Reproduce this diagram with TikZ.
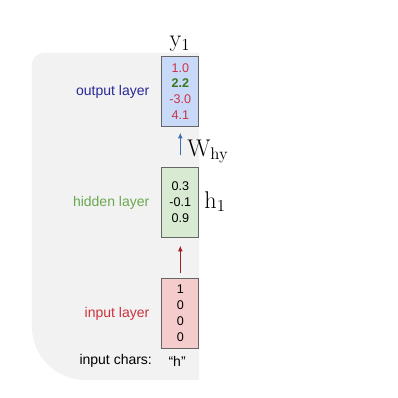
\documentclass[tikz,border=0pt]{standalone}
\usepackage[no-math]{fontspec}
\newfontfamily\slidefont{Liberation Sans}
\usetikzlibrary{positioning,arrows.meta}

\definecolor{panelgray}{RGB}{242,242,242}
\definecolor{outfill}{RGB}{201,218,248}
\definecolor{hidfill}{RGB}{217,234,211}
\definecolor{infill}{RGB}{244,204,204}
\definecolor{outtext}{RGB}{40,40,150}
\definecolor{hidtext}{RGB}{106,168,79}
\definecolor{intext}{RGB}{204,50,60}
\definecolor{valred}{RGB}{204,50,70}
\definecolor{valgreen}{RGB}{56,118,29}
\definecolor{arrblue}{RGB}{61,111,181}
\definecolor{arrred}{RGB}{160,30,40}

\begin{document}
\begin{tikzpicture}[
    layerbox/.style={draw=black!60, line width=0.6pt, minimum width=0.93cm,
        minimum height=1.75cm, inner sep=0pt, align=center,
        font=\slidefont\fontsize{9}{11.4}\selectfont},
    layername/.style={font=\slidefont\fontsize{10}{12}\selectfont},
    mathlabel/.style={font=\fontsize{17}{20}\selectfont, inner sep=0pt},
    link/.style={line width=0.6pt, -{Latex[length=4pt,width=3.5pt]}}
]
\useasboundingbox (0,0) rectangle (10,10);

% background panel
\fill[panelgray] (5.0,8.67) -- (1.1,8.67) arc[start angle=90,end angle=180,radius=0.3]
    -- (0.8,1.8) arc[start angle=180,end angle=270,radius=1.35] -- (5.0,0.45) -- cycle;

% layers
\node[layerbox, fill=outfill] (out) at (4.53,7.70)
    {\textcolor{valred}{1.0}\\ \textcolor{valgreen}{\bfseries 2.2}\\
     \textcolor{valred}{-3.0}\\ \textcolor{valred}{4.1}};
\node[layerbox, fill=hidfill] (hid) at (4.53,4.91) {0.3\\ -0.1\\ 0.9};
\node[layerbox, fill=infill] (inp) at (4.53,2.12) {1\\ 0\\ 0\\ 0};

% names
\node[layername, text=outtext, left=0.18cm of out] (outname) {output layer};
\node[layername, text=hidtext, left=0.18cm of hid] (hidname) {hidden layer};
\node[layername, text=intext, left=0.18cm of inp] (inpname) {input layer};
\node[layername, anchor=east] (chars) at (3.94,0.93) {input chars:};
\node[layername] (char) at (4.45,0.93) {“h”};

% arrows
\draw[link, arrblue, shorten <=0.30cm, shorten >=0.15cm] (hid) -- (out);
\draw[link, arrred, shorten <=0.13cm, shorten >=0.20cm] (inp) -- (hid);

\node[mathlabel] (y1) at (4.52,8.90) {$\mathrm{y}_1$};
\node[mathlabel, anchor=west] (why) at (4.70,6.20) {$\mathrm{W}_{\mathrm{hy}}$};
\node[mathlabel, anchor=west] (h1) at (5.13,4.93) {$\mathrm{h}_1$};

\end{tikzpicture}
\end{document}
